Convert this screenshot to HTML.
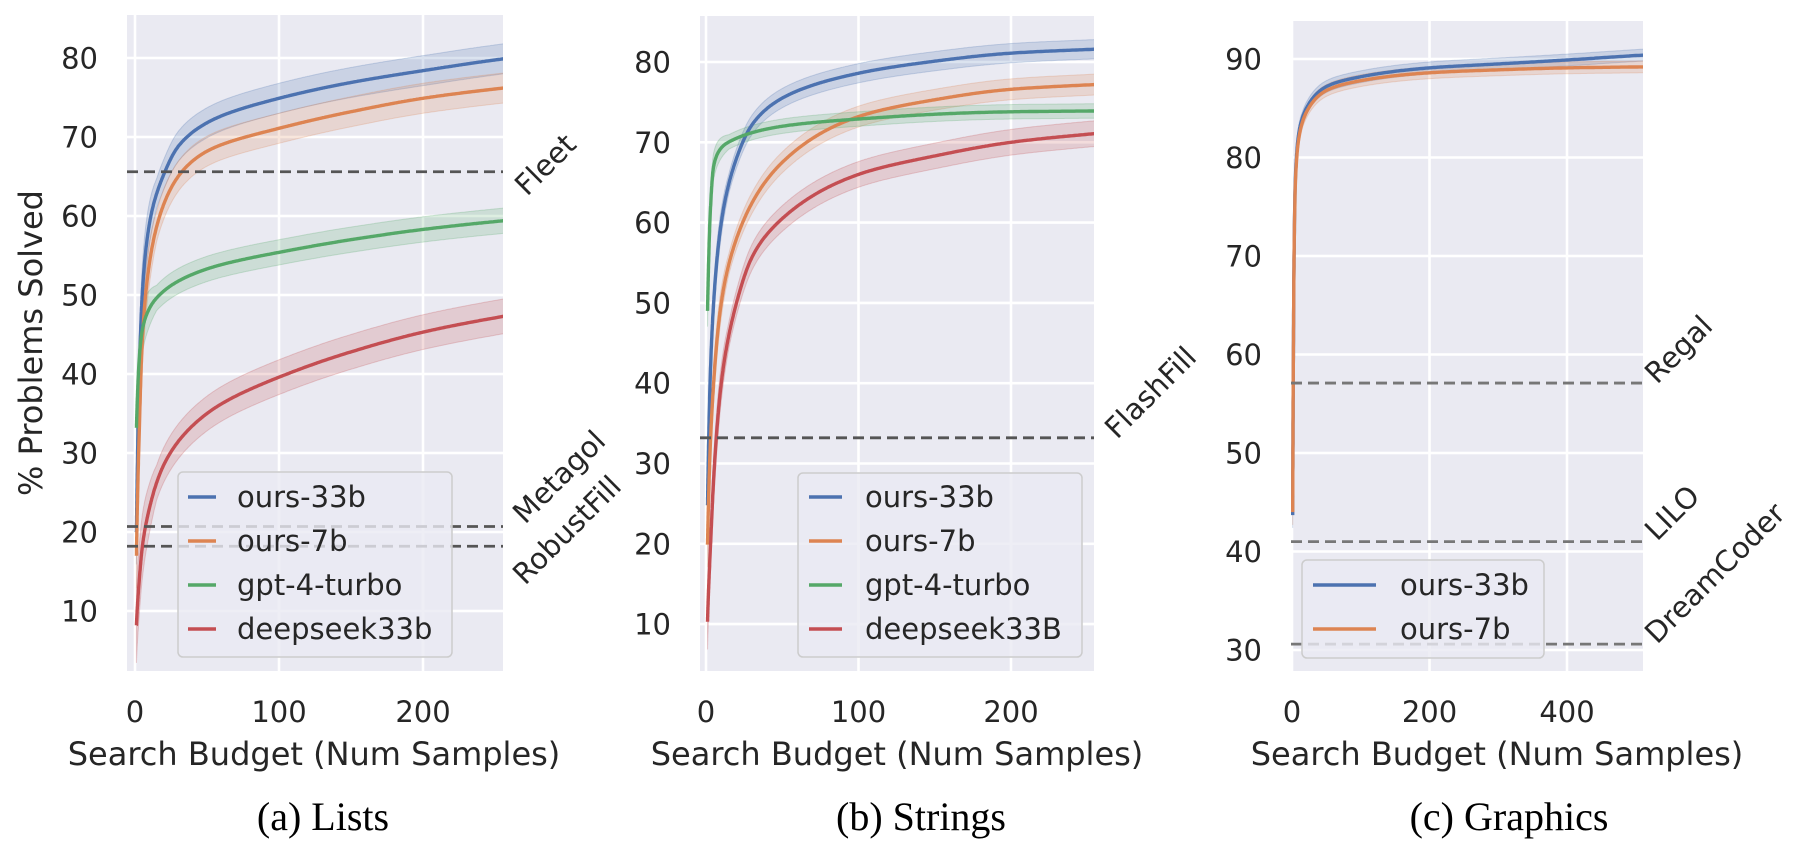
<!DOCTYPE html>
<html><head><meta charset="utf-8">
<style>
html,body{margin:0;padding:0;background:#fff;width:1793px;height:851px;overflow:hidden}
svg{display:block}
text{font-family:"DejaVu Sans","Liberation Sans",sans-serif;fill:#262626}
.cap{font-family:"Liberation Serif",serif;fill:#000;font-size:40px}
</style></head>
<body>
<svg id="s" width="1793" height="851" xmlns="http://www.w3.org/2000/svg">
<defs>
<clipPath id="c1"><rect x="127" y="15" width="376" height="656"/></clipPath>
<clipPath id="c2"><rect x="700" y="16" width="394" height="655"/></clipPath>
<clipPath id="c3"><rect x="1291" y="21" width="352" height="650"/></clipPath>
</defs>
<g id="root"></g>
<text class="cap" x="323" y="830" text-anchor="middle">(a) Lists</text>
<text class="cap" x="921" y="830" text-anchor="middle">(b) Strings</text>
<text class="cap" x="1509" y="830" text-anchor="middle">(c) Graphics</text>
<text x="42" y="343" font-size="32" text-anchor="middle" transform="rotate(-90 42 343)">% Problems Solved</text>
</svg>
<script>
var NS="http://www.w3.org/2000/svg",root=document.getElementById('root');
function el(t,a,txt){var e=document.createElementNS(NS,t);for(var k in a)e.setAttribute(k,a[k]);if(txt!=null)e.textContent=txt;root.appendChild(e);return e;}
var C={b:'#4C72B0',o:'#DD8452',g:'#55A868',r:'#C44E52'};
function mk(pts){var n=pts.length,u=[],y=[],d=[],m=[];
 for(var i=0;i<n;i++){u.push(Math.log(1+pts[i][0]));y.push(pts[i][1]);}
 for(i=0;i<n-1;i++)d.push((y[i+1]-y[i])/(u[i+1]-u[i]));
 m[0]=d[0];m[n-1]=d[n-2];
 for(i=1;i<n-1;i++){m[i]=(d[i-1]*d[i]<=0)?0:2/(1/d[i-1]+1/d[i]);}
 return function(x){var q=Math.log(1+x);
  for(var i=0;i<n-1;i++){if(q<=u[i+1]||i==n-2){var h=u[i+1]-u[i],t=(q-u[i])/h;if(t<0)t=0;if(t>1)t=1;
   var t2=t*t,t3=t2*t;return (2*t3-3*t2+1)*y[i]+(t3-2*t2+t)*h*m[i]+(-2*t3+3*t2)*y[i+1]+(t3-t2)*h*m[i+1];}}
  return y[n-1];};}
function panel(P){
 el('rect',{x:P.L,y:P.T,width:P.R-P.L,height:P.B-P.T,fill:'#EAEAF2'});
 var X=function(x){return P.x0+x*P.kx},Y=function(v){return P.y0+(P.v0-v)*P.ky};
 P.xt.forEach(function(t){el('line',{x1:X(t),x2:X(t),y1:P.T,y2:P.B,stroke:'#fff','stroke-width':2.6});
   el('text',{x:X(t),y:722,'font-size':29,'text-anchor':'middle'},String(t));});
 P.yt.forEach(function(t){el('line',{x1:P.L,x2:P.R,y1:Y(t),y2:Y(t),stroke:'#fff','stroke-width':2.6});
   el('text',{x:P.L-29,y:Y(t)+10.5,'font-size':29,'text-anchor':'end'},String(t));});
 var g=el('g',{'clip-path':'url(#'+P.clip+')'});
 function add(t,a){var e=document.createElementNS(NS,t);for(var k in a)e.setAttribute(k,a[k]);g.appendChild(e);return e;}
 P.series.forEach(function(s){
   var f=mk(s.p);
   var xs=[];for(var i=0;i<=500;i++){xs.push(1+(P.xmax-1)*Math.pow(i/500,2.4));}
   var up='',lo='',ln='';
   function W(x){return s.w*(x<15?1+(15-x)/12:1);}
   xs.forEach(function(x,i){var v=f(x);var w=W(x);
     up+=(i?'L':'M')+X(x).toFixed(1)+','+Y(v+w).toFixed(1);
     ln+=(i?'L':'M')+X(x).toFixed(1)+','+Y(v).toFixed(1);});
   for(var i=xs.length-1;i>=0;i--){var x=xs[i],v=f(x);var w=W(x);lo+='L'+X(x).toFixed(1)+','+Y(v-w).toFixed(1);}
   add('path',{d:up+lo+'Z',fill:s.c,'fill-opacity':0.2,stroke:s.c,'stroke-opacity':0.25,'stroke-width':1});
   s.ln=ln;
 });
 P.series.forEach(function(s){add('path',{d:s.ln,fill:'none',stroke:s.c,'stroke-width':3.4,'stroke-linejoin':'round'});});
 P.dash.forEach(function(d){add('line',{x1:P.L,x2:P.R,y1:Y(d[0]),y2:Y(d[0]),stroke:P.dc,'stroke-width':2.8,'stroke-dasharray':'11,6'});});
 var Lg=P.leg;
 el('rect',{x:Lg.x1,y:Lg.y1,width:Lg.x2-Lg.x1,height:Lg.y2-Lg.y1,rx:5,fill:'#EAEAF2','fill-opacity':0.8,stroke:'#cccccc','stroke-width':1.5});
 Lg.items.forEach(function(it,i){var y=Lg.ey[i];
   el('line',{x1:Lg.l1,x2:Lg.l2,y1:y,y2:y,stroke:it[1],'stroke-width':3.4});
   el('text',{x:Lg.tx,y:y+10,'font-size':29},it[0]);});
 el('text',{x:P.xlc,y:765,'font-size':32,'text-anchor':'middle'},'Search Budget (Num Samples)');
 P.dash.forEach(function(d){el('text',{x:d[1],y:d[2],'font-size':29,transform:'rotate(-45 '+d[1]+' '+d[2]+')'},d[3]);});
}
panel({L:127,R:503,T:15,B:671,x0:135,kx:1.44,y0:58,v0:80,ky:7.9,xmax:256,clip:'c1',
 xt:[0,100,200],yt:[10,20,30,40,50,60,70,80],dc:'#555',xlc:314,
 series:[
  {c:C.b,w:1.9,p:[[1,20],[3,40],[5,50],[10,59],[21,65.7],[30,68.8],[50,71.8],[100,74.9],[150,76.9],[200,78.4],[256,79.9]]},
  {c:C.o,w:1.9,p:[[1,17],[3,33],[5,44],[10,54],[20,61.5],[33,65.7],[50,68.2],[100,71.1],[150,73.2],[200,74.9],[256,76.2]]},
  {c:C.g,w:1.6,p:[[1,33.2],[3,42],[5,45.5],[10,48.3],[20,50.5],[50,53.3],[100,55.4],[150,57],[200,58.3],[256,59.4]]},
  {c:C.r,w:2.2,p:[[1,8.2],[3,14],[5,18],[10,23],[20,28.5],[50,35],[100,39.6],[150,42.8],[200,45.3],[256,47.3]]}],
 dash:[[65.6,527,197,'Fleet'],[20.7,525,525,'Metagol'],[18.2,525,586,'RobustFill']],
 leg:{x1:178,x2:452,y1:472,y2:657,l1:188,l2:216,tx:237,ey:[497,541,585,629],
  items:[['ours-33b',C.b],['ours-7b',C.o],['gpt-4-turbo',C.g],['deepseek33b',C.r]]}});
panel({L:700,R:1094,T:16,B:671,x0:706,kx:1.525,y0:62,v0:80,ky:8.03,xmax:256,clip:'c2',
 xt:[0,100,200],yt:[10,20,30,40,50,60,70,80],dc:'#555',xlc:897,
 series:[
  {c:C.b,w:1.2,p:[[1,24.8],[3,42],[5,50],[10,60],[20,68],[31,72.4],[50,75.5],[100,78.6],[150,80.1],[200,81.1],[256,81.6]]},
  {c:C.o,w:1.3,p:[[1,19.9],[3,33],[5,40],[10,50],[20,58],[50,67.5],[100,73.2],[150,75.3],[200,76.6],[256,77.2]]},
  {c:C.g,w:0.9,p:[[1,49],[3,62],[5,67],[10,69.3],[20,70.5],[50,72],[100,72.9],[200,73.8],[256,73.9]]},
  {c:C.r,w:1.6,p:[[1,10.3],[3,20],[5,28],[10,40],[20,50],[31,56],[50,60.5],[100,66],[150,68.3],[200,70],[256,71.1]]}],
 dash:[[33.2,1117,440,'FlashFill']],
 leg:{x1:798,x2:1082,y1:473,y2:657,l1:809,l2:842,tx:865,ey:[497,541,585,629],
  items:[['ours-33b',C.b],['ours-7b',C.o],['gpt-4-turbo',C.g],['deepseek33B',C.r]]}});
panel({L:1291,R:1643,T:21,B:671,x0:1292,kx:0.6875,y0:59,v0:90,ky:9.85,xmax:512,clip:'c3',
 xt:[0,200,400],yt:[30,40,50,60,70,80,90],dc:'#777',xlc:1497,
 series:[
  {c:C.b,w:0.6,p:[[1,43.7],[2,60],[3,70],[5,78],[10,82.5],[25,85.5],[50,87.2],[100,88.2],[200,89.1],[300,89.5],[400,89.9],[512,90.4]]},
  {c:C.o,w:0.6,p:[[1,44],[2,60],[3,70],[5,77.5],[10,82],[25,85.1],[50,86.8],[100,87.8],[200,88.6],[300,88.9],[400,89.1],[512,89.2]]}],
 dash:[[57.1,1657,385,'Regal'],[41.0,1657,542,'LILO'],[30.6,1657,645,'DreamCoder']],
 leg:{x1:1302,x2:1544,y1:560,y2:658,l1:1313,l2:1376,tx:1400,ey:[585,629],
  items:[['ours-33b',C.b],['ours-7b',C.o]]}});
</script>
</body></html>
